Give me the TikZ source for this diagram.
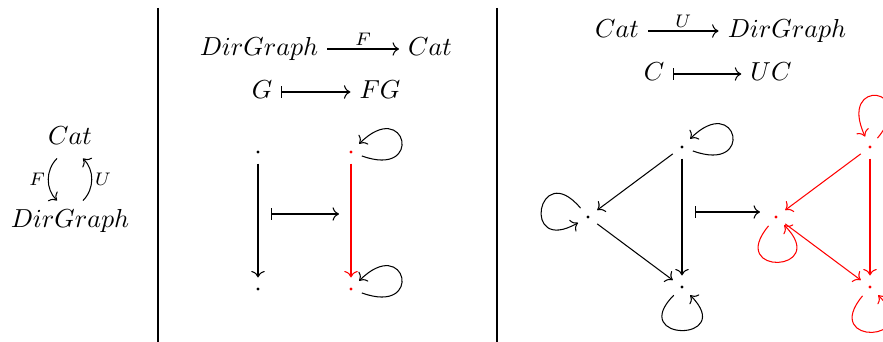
\documentclass[tikz,border=0pt]{standalone}
\usetikzlibrary{arrows.meta,calc}
\definecolor{rouge}{HTML}{FF0000}

\begin{document}
\begin{tikzpicture}[x=0.0135cm,y=0.0135cm,
  obj/.style={text height=1.6ex,text depth=.4ex},
  pt/.style={circle,fill,inner sep=0.45pt,outer sep=3.8pt},
  lbl/.style={font=\scriptsize,inner sep=1pt},
  lp/.style={min distance=9mm,shorten <=2.5pt,shorten >=2pt}]
  \useasboundingbox (0,0) rectangle (883,-342);
  % separateurs
  \draw (158,-8) -- (158,-342);
  \draw (497,-8) -- (497,-342);

  % adjonction
  \node[obj] (cat) at (70,-138) {$Cat$};
  \node[obj] (dg) at (70,-221) {$DirGraph$};
  \draw[->] ([xshift=-1.75mm]cat.south) to[bend right=45] node[left,lbl] (f) {$F$} ([xshift=-1.75mm]dg.north);
  \draw[->] ([xshift=1.75mm]dg.north) to[bend right=45] node[right,lbl] (u) {$U$} ([xshift=1.75mm]cat.south);

  % F
  \node[obj] (dg2) at (259,-49) {$DirGraph$};
  \node[obj] (cat2) at (430,-49) {$Cat$};
  \draw[->] (dg2) -- node[above,lbl] (f2) {$F$} (cat2);
  \node[obj] (g) at (262,-92) {$G$};
  \node[obj] (fg) at (380,-92) {$FG$};
  \draw[|->] (g) -- (fg);
  \node[pt] (a) at (258,-152) {};
  \node[pt] (b) at (258,-289) {};
  \node[pt,rouge] (ra) at (351,-152) {};
  \node[pt,rouge] (rb) at (351,-289) {};
  \draw[->] (a) -- (b);
  \draw[->,rouge] (ra) -- (rb);
  \foreach \n in {ra,rb} \draw[->] (\n) to[out=-20,in=45,lp] (\n);
  \coordinate (m1) at (271,-214); \coordinate (m2) at (339,-214);
  \draw[|->] (m1) -- (m2);

  % U
  \node[obj] (cat3) at (617,-31) {$Cat$};
  \node[obj] (dg3) at (787,-31) {$DirGraph$};
  \draw[->] (cat3) -- node[above,lbl] (u3) {$U$} (dg3);
  \node[obj] (c) at (654,-74) {$C$};
  \node[obj] (uc) at (771,-74) {$UC$};
  \draw[|->] (c) -- (uc);
  \node[pt] (t) at (682,-147) {};
  \node[pt] (l) at (588,-217) {};
  \node[pt] (d) at (682,-287) {};
  \node[pt,rouge] (rt) at (870,-147) {};
  \node[pt,rouge] (rl) at (776,-217) {};
  \node[pt,rouge] (rd) at (870,-287) {};
  \foreach \c/\p in {black/,rouge/r}
    \foreach \s/\e in {t/l,l/d,t/d} \draw[->,\c] (\p\s) -- (\p\e);
  \draw[->] (t) to[out=-20,in=45,lp] (t);
  \draw[->] (l) to[out=130,in=-150,lp] (l);
  \draw[->] (d) to[out=-135,in=-45,lp] (d);
  \draw[->,rouge] (rt) to[out=50,in=115,lp] (rt);
  \draw[->,rouge] (rl) to[out=-130,in=-45,lp] (rl);
  \draw[->,rouge] (rd) to[out=-130,in=-45,lp] (rd);
  \coordinate (m3) at (695,-212); \coordinate (m4) at (760,-212);
  \draw[|->] (m3) -- (m4);
\end{tikzpicture}
\end{document}
